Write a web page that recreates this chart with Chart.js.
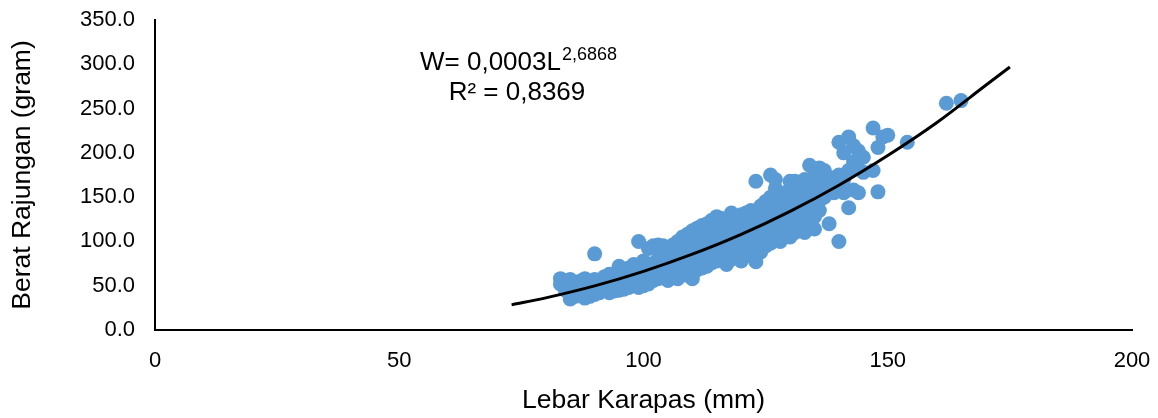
<!DOCTYPE html>
<html>
<head>
<meta charset="utf-8">
<script src="https://cdn.jsdelivr.net/npm/chart.js@4"></script>
<style>
  html, body { margin: 0; padding: 0; background: #fff; }
  #chart { display: block; }
</style>
</head>
<body>
<canvas id="chart" width="1158" height="418"></canvas>
<script>
// Lebar karapas (mm) and the berat (gram) of every crab measured at that width
const lebarKarapas = [83, 84, 85, 86, 87, 88, 89, 90, 91, 92, 93, 94, 95, 96, 97, 98, 99, 100,
  101, 102, 103, 104, 105, 106, 107, 108, 109, 110, 111, 112, 113, 114, 115, 116, 117, 118, 119, 120,
  121, 122, 123, 124, 125, 126, 127, 128, 129, 130, 131, 132, 133, 134, 135, 136, 137, 138, 139, 140,
  141, 142, 143, 144, 145, 147, 148, 149, 150, 154, 162, 165];
const beratRajungan = [
  [58, 52], [48, 55, 45], [40, 50, 35, 57], [46, 53, 38], [42, 55, 48], [36, 50, 44, 58],
  [38, 47, 53], [86, 44, 57, 40, 50], [48, 42, 55], [52, 45, 60], [47, 55, 42, 63], [50, 58, 44],
  [54, 48, 66, 45, 72], [58, 50, 62, 46], [52, 70, 57, 48], [60, 55, 74, 50, 65],
  [100, 58, 62, 48, 68], [55, 64, 72, 60, 50, 78],
  [66, 58, 92, 62, 70, 52], [68, 60, 75, 95, 56, 64], [70, 62, 80, 58, 74, 96],
  [72, 66, 85, 60, 78, 95], [75, 68, 82, 62, 90, 70, 56], [78, 70, 88, 65, 96, 74, 60],
  [80, 72, 92, 68, 100, 84, 58], [84, 75, 95, 70, 105, 88, 64], [86, 78, 98, 72, 108, 92, 62],
  [88, 80, 100, 76, 112, 95, 84, 58], [90, 82, 104, 78, 115, 96, 68], [92, 86, 106, 80, 118, 100, 70],
  [95, 88, 110, 84, 120, 102, 72], [98, 90, 112, 86, 124, 104, 76], [100, 92, 115, 88, 108, 78, 128],
  [104, 95, 118, 90, 126, 110, 82], [106, 98, 120, 94, 112, 86, 74], [110, 100, 124, 96, 130, 92, 80, 132],
  [112, 104, 126, 98, 118, 82], [115, 106, 130, 100, 122, 92, 78],
  [118, 110, 132, 104, 126, 88], [120, 112, 135, 106, 96, 128, 84], [124, 114, 168, 108, 77, 130, 92],
  [126, 118, 140, 110, 100, 88], [130, 120, 145, 112, 138, 95], [132, 124, 175, 116, 150, 108, 98],
  [136, 126, 160, 118, 144, 170], [138, 130, 152, 122, 112, 100], [142, 132, 155, 125, 148, 106],
  [145, 136, 158, 128, 118, 105, 168], [148, 138, 168, 130, 152, 110], [150, 142, 165, 133, 126, 112],
  [154, 145, 170, 136, 110, 120], [156, 148, 186, 140, 130, 115], [160, 150, 175, 144, 114, 128],
  [162, 154, 183, 146, 135], [166, 156, 150, 180], [168, 160, 172, 120], [172, 165, 155],
  [212, 100, 175, 160],
  [170, 155, 200], [218, 138, 180], [158, 190, 208], [155, 182, 202], [178, 195], [228, 180],
  [206, 156], [218], [220], [212], [256], [259]
];

// power trendline
const trendL = [73, 80, 90, 100, 110, 120, 130, 140, 150, 160, 170, 175];
const trendW = [28.4, 36.3, 49.8, 66.2, 85.6, 108, 134, 163.5, 197, 234, 276, 297];

const xTicks = [0, 50, 100, 150, 200];
const yTicks = [0, 50, 100, 150, 200, 250, 300, 350];

const points = [];
lebarKarapas.forEach((l, i) => {
  beratRajungan[i].forEach(w => points.push({ x: l, y: w }));
});
const trendPoints = trendL.map((l, i) => ({ x: l, y: trendW[i] }));

const fontFamily = 'Arial, "Liberation Sans", sans-serif';

// equation text drawn above the cloud
const equationLabel = {
  id: 'equationLabel',
  afterDraw(chart) {
    const ctx = chart.ctx;
    ctx.save();
    ctx.fillStyle = '#000';
    ctx.textBaseline = 'middle';
    ctx.textAlign = 'left';
    ctx.font = '26px ' + fontFamily;
    const main = 'W= 0,0003L';
    const x0 = 420;
    ctx.fillText(main, x0, 63);
    const w = ctx.measureText(main).width;
    ctx.font = '18px ' + fontFamily;
    ctx.fillText('2,6868', x0 + w + 1, 55);
    ctx.font = '26px ' + fontFamily;
    ctx.textAlign = 'center';
    ctx.fillText('R² = 0,8369', 517, 93);
    ctx.restore();
  }
};

new Chart(document.getElementById('chart'), {
  type: 'scatter',
  data: {
    datasets: [{
      label: 'Trendline',
      data: trendPoints,
      showLine: true,
      borderColor: '#000',
      borderWidth: 3,
      pointRadius: 0,
      cubicInterpolationMode: 'monotone',
      order: 0
    }, {
      label: 'Berat',
      data: points,
      backgroundColor: '#5B9BD5',
      borderColor: '#5B9BD5',
      borderWidth: 0,
      pointRadius: 7.5,
      order: 1
    }]
  },
  options: {
    responsive: false,
    animation: false,
    layout: { padding: { left: 0, right: 26, top: 20, bottom: 0 } },
    plugins: {
      legend: { display: false },
      tooltip: { enabled: false }
    },
    scales: {
      x: {
        type: 'linear',
        min: 0,
        max: 200,
        afterBuildTicks: scale => { scale.ticks = xTicks.map(v => ({ value: v })); },
        afterFit: scale => {
          scale.height = 88;
          scale.paddingLeft = 0;
          scale.paddingRight = 0;
        },
        grid: { display: false, drawTicks: false },
        border: { display: true, color: '#000', width: 2 },
        ticks: {
          padding: 18,
          color: '#000',
          font: { size: 22, family: fontFamily },
          callback: v => String(v)
        },
        title: {
          display: true,
          text: 'Lebar Karapas (mm)',
          color: '#000',
          font: { size: 26.5, family: fontFamily },
          padding: { top: 0, bottom: 1 }
        }
      },
      y: {
        type: 'linear',
        min: 0,
        max: 350,
        afterBuildTicks: scale => { scale.ticks = yTicks.map(v => ({ value: v })); },
        afterFit: scale => {
          scale.width = 155;
          scale.paddingTop = 0;
          scale.paddingBottom = 0;
        },
        grid: { display: false, drawTicks: false },
        border: { display: true, color: '#000', width: 2 },
        ticks: {
          padding: 20,
          color: '#000',
          font: { size: 22, family: fontFamily },
          callback: v => v.toFixed(1)
        },
        title: {
          display: true,
          text: 'Berat Rajungan (gram)',
          color: '#000',
          font: { size: 26.5, family: fontFamily },
          padding: { top: 7, bottom: 0 }
        }
      }
    }
  },
  plugins: [equationLabel]
});
</script>
</body>
</html>
